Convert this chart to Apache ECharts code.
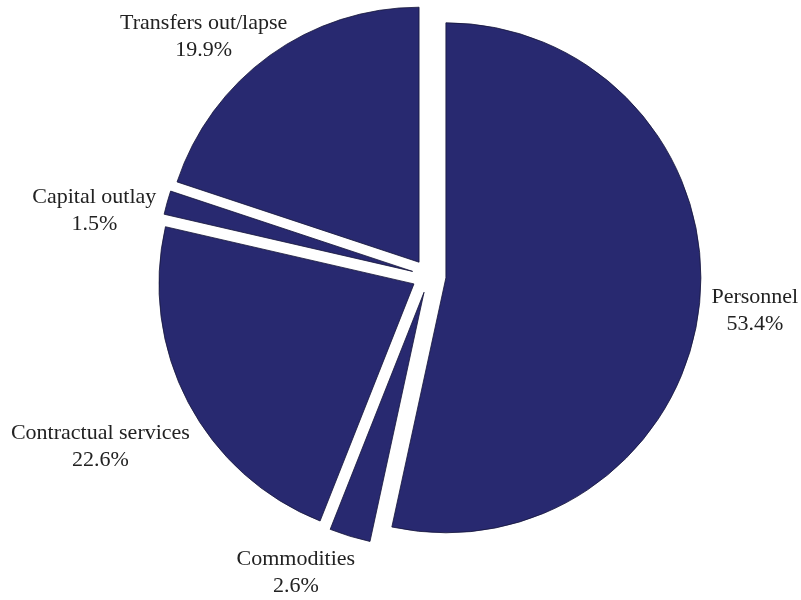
<!DOCTYPE html>
<html>
<head>
<meta charset="utf-8">
<script src="https://cdn.jsdelivr.net/npm/echarts@6/dist/echarts.min.js"></script>
<style>html,body{margin:0;padding:0;background:#fff}#c{width:801px;height:600px}</style>
</head>
<body>
<div id="c"></div>
<script>
const categories = ['Personnel', 'Commodities', 'Contractual services', 'Capital outlay', 'Transfers out/lapse'];
const shares = [53.4, 2.6, 22.6, 1.5, 19.9];

// label nudges (px) applied after ECharts' outside-label placement
const labelNudge = [[1, 5], [12, 31], [12, 41], [0, 10], [26, -14]];

const chart = echarts.init(document.getElementById('c'), null, {renderer: 'canvas'});
chart.setOption({
  animation: false,
  backgroundColor: '#ffffff',
  series: [{
    type: 'pie',
    center: [429, 276],
    radius: [0, 255],
    startAngle: 90,
    clockwise: true,
    selectedMode: 'multiple',
    selectedOffset: 17,
    avoidLabelOverlap: false,
    emphasis: {disabled: true},
    itemStyle: {color: '#282970', borderColor: '#15153a', borderWidth: 0.8},
    label: {
      show: true,
      position: 'outside',
      distanceToLabelLine: 5,
      fontFamily: 'Liberation Serif',
      fontSize: 22,
      color: '#222',
      formatter: p => '{n|' + p.name + '}\n{n|' + p.value.toFixed(1) + '%}',
      rich: {n: {align: 'center', fontFamily: 'Liberation Serif', fontSize: 22, lineHeight: 27, color: '#222'}}
    },
    labelLine: {show: false, length: 6, length2: 0},
    labelLayout: params => ({dx: labelNudge[params.dataIndex][0], dy: labelNudge[params.dataIndex][1]}),
    data: categories.map((name, i) => ({name: name, value: shares[i], selected: true}))
  }]
});
</script>
</body>
</html>
